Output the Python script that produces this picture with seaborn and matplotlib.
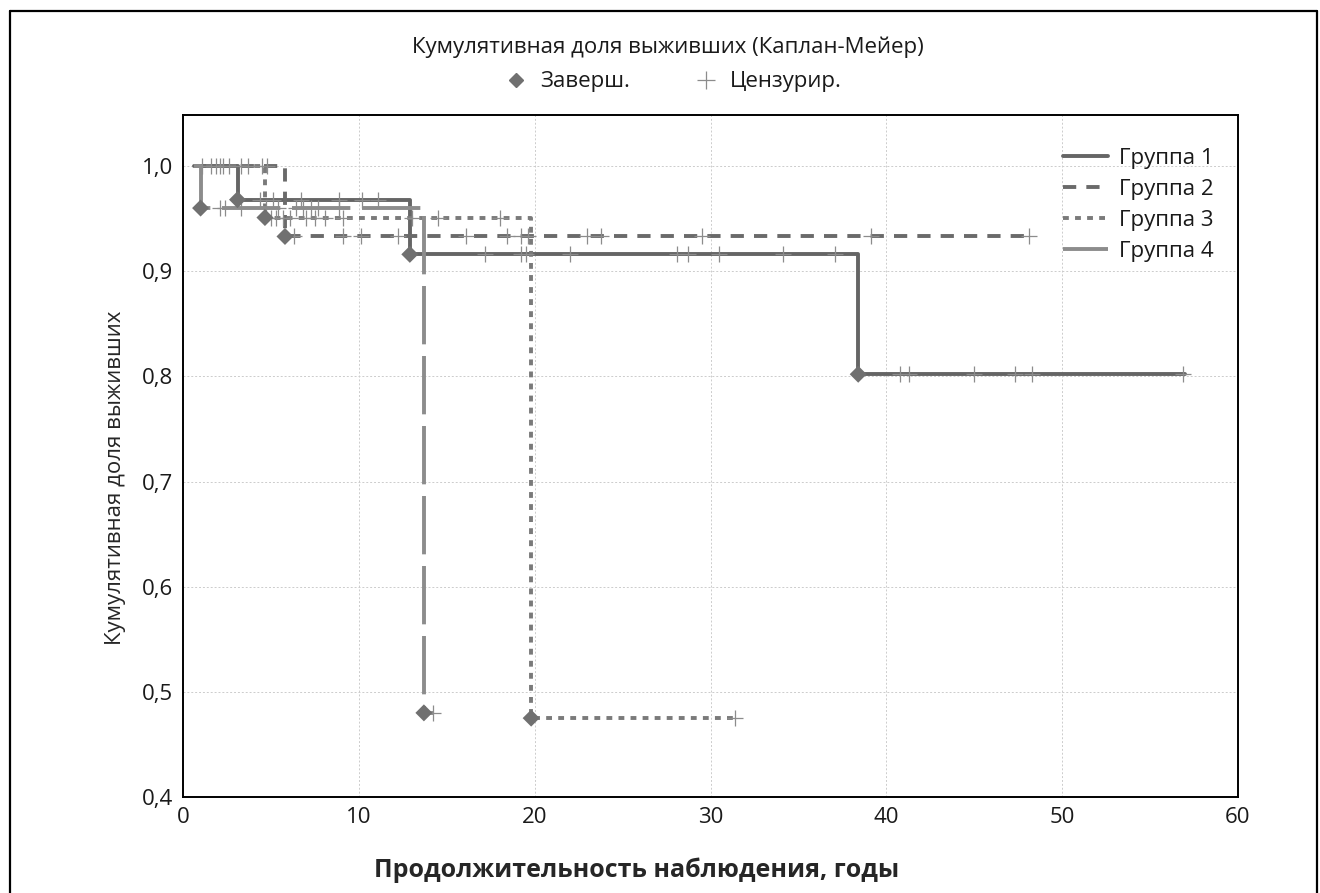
import matplotlib
matplotlib.use("Agg")
import matplotlib.pyplot as plt
from matplotlib.lines import Line2D
from matplotlib.ticker import FixedLocator
import numpy as np
import pandas as pd
import seaborn as sns

groups = ["Группа 1", "Группа 2", "Группа 3", "Группа 4"]
start_time = 0.6

# Kaplan-Meier steps
event_times = {
    "Группа 1": [3.1, 12.9, 38.4],
    "Группа 2": [5.8],
    "Группа 3": [4.66, 19.8],
    "Группа 4": [1.0, 13.7],
}
event_surv = {
    "Группа 1": [0.968, 0.916, 0.802],
    "Группа 2": [0.933],
    "Группа 3": [0.951, 0.475],
    "Группа 4": [0.960, 0.480],
}
end_time = {"Группа 1": 57.0, "Группа 2": 48.2, "Группа 3": 31.4, "Группа 4": 14.2}

censor_times = {
    "Группа 1": [1.6, 2.3, 4.4, 5.1, 6.7, 8.9, 10.2, 11.1, 17.2, 19.2, 19.5, 22.0,
                 28.1, 28.7, 30.5, 34.1, 37.1, 40.8, 41.3, 45.0, 47.3, 48.3, 56.9],
    "Группа 2": [1.1, 1.9, 3.7, 4.8, 6.3, 9.1, 10.1, 12.2, 16.1, 18.4, 19.2, 19.6,
                 23.0, 23.8, 29.5, 39.1, 48.1],
    "Группа 3": [2.1, 2.6, 3.3, 4.5, 5.0, 5.3, 5.7, 6.1, 7.0, 7.5, 8.1, 9.1, 13.0,
                 14.5, 18.0, 31.4],
    "Группа 4": [2.1, 2.4, 3.3, 4.7, 5.4, 6.4, 6.8, 7.3, 7.7, 8.9, 14.2],
}

y_ticks = [0.4, 0.5, 0.6, 0.7, 0.8, 0.9, 1.0]
y_tick_labels = ["0,4", "0,5", "0,6", "0,7", "0,8", "0,9", "1,0"]
x_ticks = [0, 10, 20, 30, 40, 50, 60]

title = "Кумулятивная доля выживших (Каплан-Мейер)"
x_label = "Продолжительность наблюдения, годы"
y_label = "Кумулятивная доля выживших"


def surv_at(g, t):
    idx = np.searchsorted(event_times[g], t, side="right")
    return 1.0 if idx == 0 else event_surv[g][idx - 1]


curve_rows, event_rows, cens_rows = [], [], []
for g in groups:
    curve_rows.append({"group": g, "t": start_time, "s": 1.0})
    for t, s in zip(event_times[g], event_surv[g]):
        curve_rows.append({"group": g, "t": t, "s": s})
        event_rows.append({"group": g, "t": t, "s": s})
    curve_rows.append({"group": g, "t": end_time[g], "s": event_surv[g][-1]})
    for t in censor_times[g]:
        cens_rows.append({"group": g, "t": t, "s": surv_at(g, t)})
curve_df = pd.DataFrame(curve_rows)
event_df = pd.DataFrame(event_rows)
cens_df = pd.DataFrame(cens_rows)

sns.set_style("white")
plt.rcParams["font.family"] = ["Open Sans", "DejaVu Sans"]
plt.rcParams["font.size"] = 16
plt.rcParams["text.color"] = "#1a1a1a"

palette = {"Группа 1": "#656565", "Группа 2": "#6a6a6a", "Группа 3": "#7a7a7a", "Группа 4": "#8c8c8c"}
dashes = {"Группа 1": "", "Группа 2": (3.4, 2.6), "Группа 3": (1.5, 1.6), "Группа 4": (15, 3)}

fig = plt.figure(figsize=(13.2, 8.93), dpi=100)
ax = fig.add_axes([183 / 1320, 1 - 797 / 893, (1238 - 183) / 1320, (797 - 115) / 893])

sns.lineplot(data=curve_df, x="t", y="s", hue="group", style="group", palette=palette,
             dashes=dashes, linewidth=2.8, drawstyle="steps-post", estimator=None,
             sort=True, ax=ax, zorder=2)
sns.scatterplot(data=cens_df, x="t", y="s", marker="+", s=130, color="#8c8c8c",
                linewidth=0.9, ax=ax, legend=False, zorder=3)
sns.scatterplot(data=event_df, x="t", y="s", marker="D", s=75, color="#707070",
                edgecolor="none", ax=ax, legend=False, zorder=4)

sns.move_legend(ax, "upper right", bbox_to_anchor=(0.985, 0.965), frameon=False,
                title=None, handlelength=2.0, handletextpad=0.5, labelspacing=0.45,
                borderaxespad=0, fontsize=16)

ax.set_xlim(0, 60)
ax.set_ylim(0.4, 1.0485)
ax.xaxis.set_major_locator(FixedLocator(x_ticks))
ax.set_yticks(y_ticks)
ax.set_yticklabels(y_tick_labels)
ax.grid(True, color="#cccccc", linestyle=(0, (2, 2)), linewidth=0.7)
ax.tick_params(direction="in", length=5, width=1.2, color="black", labelsize=16,
               labelcolor="#1a1a1a", pad=7)
for sp in ax.spines.values():
    sp.set_color("black")
    sp.set_linewidth(1.4)

ax.set_xlabel(x_label, fontweight="bold", fontsize=18)
ax.set_ylabel(y_label, fontsize=16)
ax.xaxis.set_label_coords((637 - 183) / 1055, (797 - 857) / 682)
ax.yaxis.set_label_coords((126 - 183) / 1055, (797 - 478) / 682)

fig.text(668 / 1320, 1 - 47 / 893, title, ha="center", va="center", fontsize=16)
top_handles = [
    Line2D([], [], marker="D", color="#707070", linestyle="none", markersize=7),
    Line2D([], [], marker="+", color="#8c8c8c", linestyle="none", markersize=13, markeredgewidth=0.9),
]
fig.legend(top_handles, ["Заверш.", "Цензурир."], loc="center", ncol=2,
           bbox_to_anchor=(668 / 1320, 1 - 82 / 893), frameon=False, fontsize=16,
           handletextpad=0.1, columnspacing=2.4)

# figure frame
for xs, ys in [((10 / 1320, 10 / 1320), (0, 1 - 11 / 893)),
               ((10 / 1320, 1317 / 1320), (1 - 11 / 893, 1 - 11 / 893)),
               ((1317 / 1320, 1317 / 1320), (0, 1 - 11 / 893))]:
    fig.add_artist(Line2D(xs, ys, color="black", linewidth=1.6, transform=fig.transFigure))

fig.savefig("out.png", dpi=100)
